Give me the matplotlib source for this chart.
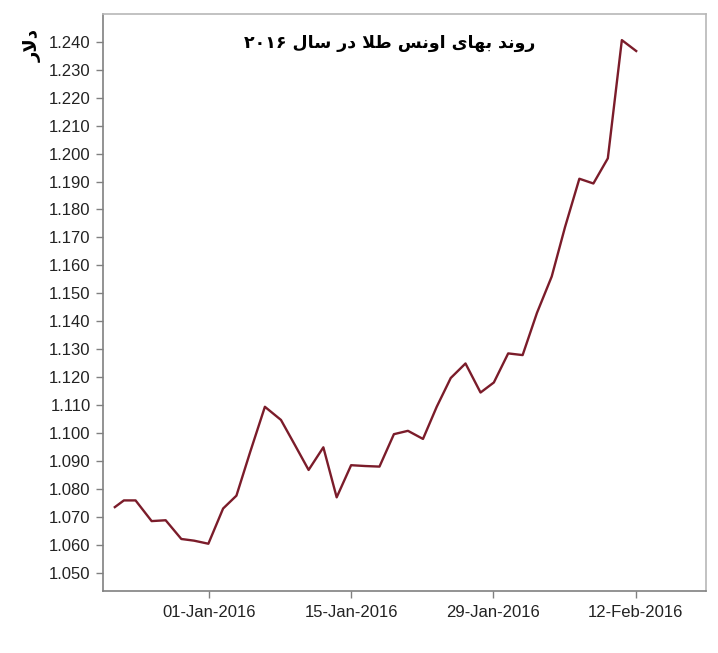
import pandas as pd
import matplotlib
matplotlib.use('Agg')
import matplotlib.pyplot as plt
import matplotlib.ticker as mticker

# days counted from 01-Jan-2016, price of one ounce in dollars
days = [-9.24, -8.35, -7.20, -5.62, -4.24, -2.70, -1.45, -0.04, 1.41, 2.72,
        4.07, 5.52, 7.10, 8.46, 9.82, 11.27, 12.58, 14.00, 15.41, 16.79,
        18.21, 19.59, 21.07, 22.42, 23.80, 25.25, 26.73, 28.04, 29.45, 30.87,
        32.28, 33.73, 35.04, 36.45, 37.83, 39.25, 40.63, 42.04]
price = [1073.5, 1075.9, 1075.9, 1068.5, 1068.8, 1062.1, 1061.5, 1060.4, 1073.0, 1077.6,
         1093.2, 1109.4, 1104.7, 1095.8, 1086.8, 1094.9, 1077.0, 1088.5, 1088.2, 1088.0,
         1099.6, 1100.8, 1097.9, 1109.4, 1119.7, 1124.9, 1114.5, 1118.1, 1128.5, 1127.9,
         1143.0, 1156.0, 1173.7, 1191.0, 1189.3, 1198.3, 1240.6, 1236.7]
tick_dates = ['2016-01-01', '2016-01-15', '2016-01-29', '2016-02-12']
y_ticks = list(range(1050, 1241, 10))

title_text = 'روند بهای اونس طلا در سال ۲۰۱۶'
ylabel_text = 'دلار'

# matplotlib has no arabic shaping, so pick the presentation forms by hand
FORMS = {  # isolated, final, initial, medial
    'ا': ('\uFE8D', '\uFE8E', None, None),
    'ب': ('\uFE8F', '\uFE90', '\uFE91', '\uFE92'),
    'د': ('\uFEA9', '\uFEAA', None, None),
    'ر': ('\uFEAD', '\uFEAE', None, None),
    'س': ('\uFEB1', '\uFEB2', '\uFEB3', '\uFEB4'),
    'ط': ('\uFEC1', '\uFEC2', '\uFEC3', '\uFEC4'),
    'ل': ('\uFEDD', '\uFEDE', '\uFEDF', '\uFEE0'),
    'ن': ('\uFEE5', '\uFEE6', '\uFEE7', '\uFEE8'),
    'ه': ('\uFEE9', '\uFEEA', '\uFEEB', '\uFEEC'),
    'و': ('\uFEED', '\uFEEE', None, None),
    'ی': ('\uFBFC', '\uFBFD', '\uFBFE', '\uFBFF'),
    'ﻻ': ('\uFEFB', '\uFEFC', None, None),
}


def shape_word(word):
    word = word.replace('لا', 'ﻻ')
    out = []
    for i, ch in enumerate(word):
        if ch not in FORMS:
            out.append(ch)
            continue
        prev = word[i - 1] if i > 0 else ''
        nxt = word[i + 1] if i + 1 < len(word) else ''
        join_prev = prev in FORMS and FORMS[prev][2] is not None
        join_next = FORMS[ch][2] is not None and nxt in FORMS
        if join_prev and join_next:
            out.append(FORMS[ch][3])
        elif join_prev:
            out.append(FORMS[ch][1])
        elif join_next:
            out.append(FORMS[ch][2])
        else:
            out.append(FORMS[ch][0])
    return ''.join(out)


def rtl(text):
    words = []
    for w in text.split(' '):
        if w.isdigit():
            words.append(w)
        else:
            words.append(shape_word(w)[::-1])
    return ' '.join(words[::-1])


x = pd.Timestamp('2016-01-01') + pd.to_timedelta(days, unit='D')

plt.rcParams['font.family'] = ['Liberation Sans', 'DejaVu Sans']
fig = plt.figure(figsize=(7.18, 6.53), dpi=100)
ax = fig.add_axes([0.1435, 0.095, 0.8397, 0.8838])

ax.plot(x, price, color='#7b1c2a', linewidth=1.7)

ax.set_xlim(pd.Timestamp('2016-01-01') - pd.Timedelta(days=10.4),
            pd.Timestamp('2016-01-01') + pd.Timedelta(days=48.9))
ax.set_ylim(1043.5, 1250)
ax.set_yticks(y_ticks)
ax.yaxis.set_major_formatter(mticker.FuncFormatter(lambda v, p: f'{v:,.0f}'.replace(',', '.')))
ticks = pd.to_datetime(tick_dates)
ax.set_xticks(ticks)
ax.set_xticklabels([t.strftime('%d-%b-%Y') for t in ticks])

ax.tick_params(axis='both', labelsize=12, colors='#222222', length=5, width=1)
ax.tick_params(axis='both', color='#808080')
ax.tick_params(axis='x', pad=5)
ax.tick_params(axis='y', pad=4)
ax.spines['left'].set_color('#808080')
ax.spines['bottom'].set_color('#808080')
ax.spines['top'].set_color('#b8b8b8')
ax.spines['right'].set_color('#b8b8b8')
for s in ax.spines.values():
    s.set_linewidth(1.2)

fig.text(0.543, 0.934, rtl(title_text), ha='center', va='center', fontsize=12.5,
         fontweight='bold', family=['DejaVu Sans'])
fig.text(0.045, 0.93, rtl(ylabel_text), ha='center', va='center', fontsize=13,
         fontweight='bold', rotation=90, family=['DejaVu Sans'])

fig.savefig('out.png', dpi=100)
